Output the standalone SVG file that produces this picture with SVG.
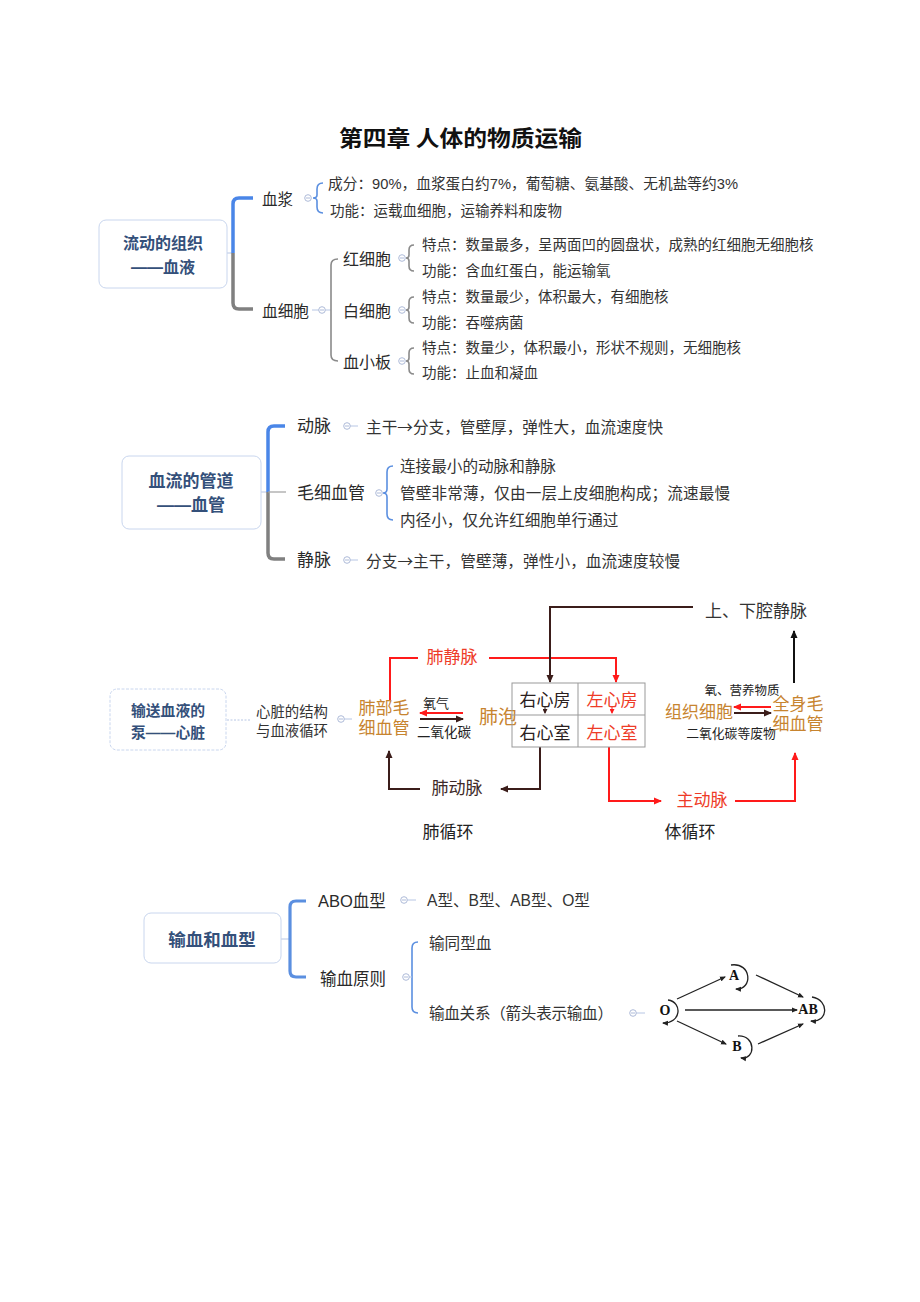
<svg xmlns="http://www.w3.org/2000/svg" width="920" height="1302" viewBox="0 0 920 1302">
<style>
text{font-family:"Liberation Sans","Noto Sans CJK SC",sans-serif;fill:#333;dominant-baseline:central}
.t{font-size:14.5px}
.t2{font-size:15.6px}
.cj{font-family:"Noto Sans CJK SC",sans-serif}
.n{font-size:16px;fill:#2a2a2a}
.box{fill:#fff;stroke:#c9d6ee;stroke-width:1}
.bt{font-size:16px;font-weight:700;fill:#34507a;text-anchor:middle}
.blue{fill:none;stroke:#4a86e8;stroke-width:3.5}
.grey{fill:none;stroke:#808080;stroke-width:3.5}
.gs{fill:none;stroke:#8a8a8a;stroke-width:1.6}
.bs{fill:none;stroke:#5b8fe0;stroke-width:1.6}
.lk{fill:none;stroke:#b7c6e4;stroke-width:1}
.h{font-size:17px}
.or{fill:#c7842f}
.rd{fill:#ee3b27}
.rl{fill:none;stroke:#ff1a1a;stroke-width:2}
.bl{fill:none;stroke:#3b1d1a;stroke-width:2}
.kl{fill:none;stroke:#111;stroke-width:2}
.g{fill:none;stroke:#222;stroke-width:1.3}
.ser{font-family:"Liberation Serif",serif;font-weight:700;font-size:14px;fill:#111;text-anchor:middle}
</style>
<defs>
<g id="knob"><circle r="3.3" fill="#fff" stroke="#aebbd9" stroke-width="1"/><line x1="-2" y1="0" x2="2" y2="0" stroke="#aebbd9" stroke-width="1"/></g>
<marker id="aR" markerWidth="8" markerHeight="8" refX="7" refY="4" orient="auto" markerUnits="userSpaceOnUse"><path d="M0,0.5 L8,4 L0,7.5 Z" fill="#ff1a1a"/></marker>
<marker id="aB" markerWidth="8" markerHeight="8" refX="7" refY="4" orient="auto" markerUnits="userSpaceOnUse"><path d="M0,0.5 L8,4 L0,7.5 Z" fill="#3b1d1a"/></marker>
<marker id="aK" markerWidth="8" markerHeight="8" refX="7" refY="4" orient="auto" markerUnits="userSpaceOnUse"><path d="M0,0.5 L8,4 L0,7.5 Z" fill="#111"/></marker>
<marker id="aS" markerWidth="6" markerHeight="6" refX="5" refY="3" orient="auto" markerUnits="userSpaceOnUse"><path d="M0,0.5 L6,3 L0,5.5 Z" fill="#222"/></marker>
<marker id="aSr" markerWidth="5" markerHeight="5" refX="4" refY="2.5" orient="auto" markerUnits="userSpaceOnUse"><path d="M0,0 L5,2.5 L0,5 Z" fill="#ff1a1a"/></marker>
<marker id="aSb" markerWidth="5" markerHeight="5" refX="4" refY="2.5" orient="auto" markerUnits="userSpaceOnUse"><path d="M0,0 L5,2.5 L0,5 Z" fill="#3b1d1a"/></marker>
</defs>
<rect width="920" height="1302" fill="#fff"/>

<g id="title"><text x="339" y="136" textLength="243" lengthAdjust="spacingAndGlyphs" style="font-family:'Noto Sans CJK SC',sans-serif;font-size:21.5px;font-weight:700;fill:#111">第四章  人体的物质运输</text></g>

<g id="connectors">
<!-- section 1 -->
<line class="lk" x1="227" y1="253" x2="233" y2="253"/>
<path class="blue" d="M253,198 L239,198 Q233,198 233,204 L233,253"/>
<path class="grey" d="M233,253 L233,303 Q233,309 239,309 L253,309"/>
<path class="bs" d="M323,183 Q317,183 317,189 L317,195 Q317,198 313,198 Q317,198 317,201 L317,207 Q317,213 323,213"/>
<line class="lk" x1="312" y1="310" x2="331" y2="310"/>
<path class="gs" d="M338,259 Q331,259 331,265 L331,355 Q331,361 338,361"/>
<path class="gs" d="M414,245 Q409,245 409,250 L409,255 Q409,258 406,258 Q409,258 409,261 L409,266 Q409,271 414,271"/>
<path class="gs" d="M414,297 Q409,297 409,302 L409,307 Q409,310 406,310 Q409,310 409,313 L409,318 Q409,323 414,323"/>
<path class="gs" d="M414,348 Q409,348 409,353 L409,358 Q409,361 406,361 Q409,361 409,364 L409,369 Q409,374 414,374"/>
<use href="#knob" x="308" y="198"/>
<use href="#knob" x="322" y="310"/>
<use href="#knob" x="402" y="258"/>
<use href="#knob" x="402" y="310"/>
<use href="#knob" x="402" y="361"/>
<!-- section 2 -->
<line class="lk" x1="261" y1="492" x2="268" y2="492"/>
<path class="blue" d="M285,426 L274,426 Q268,426 268,432 L268,492"/>
<path class="grey" d="M268,492 L268,553 Q268,559 274,559 L285,559"/>
<line x1="268" y1="492" x2="286" y2="492" stroke="#a0a0a0" stroke-width="1.2"/>
<line class="lk" x1="350" y1="426" x2="358" y2="426"/>
<line class="lk" x1="350" y1="560" x2="358" y2="560"/>
<use href="#knob" x="347" y="426"/>
<use href="#knob" x="347" y="560"/>
<path class="bs" d="M393,466 Q387,466 387,472 L387,489 Q387,493 383,493 Q387,493 387,497 L387,514 Q387,520 393,520"/>
<use href="#knob" x="379" y="493"/>
<!-- section 3 -->
<line x1="227" y1="720" x2="250" y2="720" stroke="#b7c6e4" stroke-width="1" stroke-dasharray="2,1.5"/>
<line class="lk" x1="344" y1="719" x2="352" y2="719"/>
<use href="#knob" x="341" y="719"/>
<path class="rl" d="M390,700 L390,658 L418,658"/>
<path class="rl" d="M489,658 L616,658 L616,682" marker-end="url(#aR)"/>
<path class="bl" d="M693,607 L550,607 L550,682" marker-end="url(#aB)"/>
<path class="bl" d="M540,747 L540,789 L501,789" marker-end="url(#aB)"/>
<path class="bl" d="M420,789 L389,789 L389,751" marker-end="url(#aB)"/>
<path class="rl" d="M609,747 L609,801 L661,801" marker-end="url(#aR)"/>
<path class="rl" d="M735,801 L795,801 L795,753" marker-end="url(#aR)"/>
<path class="kl" d="M794,683 L794,631" marker-end="url(#aK)"/>
<line x1="463" y1="713" x2="420" y2="713" stroke="#ff1a1a" stroke-width="2" marker-end="url(#aR)"/>
<line x1="420" y1="719" x2="463" y2="719" stroke="#3b1d1a" stroke-width="2" marker-end="url(#aB)"/>
<line x1="771" y1="707" x2="734" y2="707" stroke="#ff1a1a" stroke-width="2" marker-end="url(#aR)"/>
<line x1="734" y1="713" x2="771" y2="713" stroke="#3b1d1a" stroke-width="2" marker-end="url(#aB)"/>
<line x1="545" y1="706" x2="545" y2="713" stroke="#3b1d1a" stroke-width="1" marker-end="url(#aSb)"/>
<line x1="612" y1="706" x2="612" y2="713" stroke="#ff1a1a" stroke-width="1" marker-end="url(#aSr)"/>
<!-- section 4 -->
<line class="lk" x1="281" y1="939" x2="290" y2="939"/>
<path class="bs" style="stroke-width:3.2" d="M306,901 L296,901 Q290,901 290,907 L290,971 Q290,977 296,977 L306,977"/>
<line class="lk" x1="407" y1="900" x2="416" y2="900"/>
<use href="#knob" x="404" y="900"/>
<path class="bs" d="M418,942 Q412,942 412,948 L412,1007 Q412,1013 418,1013"/>
<line class="lk" x1="406" y1="977" x2="412" y2="977"/>
<use href="#knob" x="406" y="977"/>
<line class="lk" x1="636" y1="1013" x2="645" y2="1013"/>
<use href="#knob" x="633" y="1013"/>
</g>

<g id="blood">
<rect class="box" x="99" y="220" width="128" height="68" rx="7"/>
<text class="bt" x="163" y="243">流动的组织</text>
<text class="bt" x="163" y="267">——血液</text>
</g>
<g id="plasma"><text class="n" x="262" y="199" style="font-size:15.5px">血浆</text></g>
<g id="plasma-info">
<text class="t" x="328" y="184" textLength="410" lengthAdjust="spacingAndGlyphs">成分：90%，血浆蛋白约7%，葡萄糖、氨基酸、无机盐等约3%</text>
<text class="t" x="330" y="211">功能：运载血细胞，运输养料和废物</text>
</g>
<g id="cells"><text class="n" x="262" y="311" style="font-size:15.7px">血细胞</text></g>
<g id="rbc"><text class="n" x="343" y="259">红细胞</text>
<text class="t" x="422" y="245">特点：数量最多，呈两面凹的圆盘状，成熟的红细胞无细胞核</text>
<text class="t" x="422" y="271">功能：含血红蛋白，能运输氧</text></g>
<g id="wbc"><text class="n" x="343" y="311">白细胞</text>
<text class="t" x="422" y="297">特点：数量最少，体积最大，有细胞核</text>
<text class="t" x="422" y="323">功能：吞噬病菌</text></g>
<g id="plt"><text class="n" x="343" y="362">血小板</text>
<text class="t" x="422" y="348">特点：数量少，体积最小，形状不规则，无细胞核</text>
<text class="t" x="422" y="373">功能：止血和凝血</text></g>

<g id="vessels">
<rect class="box" x="122" y="456" width="139" height="73" rx="7"/>
<text class="bt" x="191" y="481" style="font-size:17px">血流的管道</text>
<text class="bt" x="191" y="505" style="font-size:17px">——血管</text>
</g>
<g id="artery"><text class="n" x="297" y="426" style="font-size:17px">动脉</text>
<text class="t2 cj" x="366" y="426" textLength="297">主干→分支，管壁厚，弹性大，血流速度快</text></g>
<g id="capillary"><text class="n" x="297" y="493" style="font-size:17px">毛细血管</text>
<text class="t2" x="400" y="466">连接最小的动脉和静脉</text>
<text class="t2" x="400" y="493" textLength="330">管壁非常薄，仅由一层上皮细胞构成；流速最慢</text>
<text class="t2" x="400" y="520">内径小，仅允许红细胞单行通过</text></g>
<g id="vein"><text class="n" x="297" y="560" style="font-size:17px">静脉</text>
<text class="t2 cj" x="366" y="560" textLength="314">分支→主干，管壁薄，弹性小，血流速度较慢</text></g>

<g id="heart">
<rect class="box" x="110" y="689" width="116" height="61" rx="7" style="stroke-dasharray:3,1.5"/>
<text class="bt" x="168" y="711" style="font-size:14.8px">输送血液的</text>
<text class="bt" x="168" y="733" style="font-size:14.8px">泵——心脏</text>
</g>
<g id="heart-structure">
<text x="292" y="712" style="font-size:14.4px;text-anchor:middle">心脏的结构</text>
<text x="292" y="731" style="font-size:14.4px;text-anchor:middle">与血液循环</text>
</g>
<g id="lung-cap"><text class="h or" x="384" y="708" text-anchor="middle">肺部毛</text><text class="h or" x="384" y="728" text-anchor="middle">细血管</text></g>
<g id="alveoli"><text class="or" x="479" y="717" style="font-size:19px">肺泡</text>
<text x="436" y="703" style="font-size:13px;text-anchor:middle;fill:#222">氧气</text>
<text x="444" y="732" style="font-size:13.5px;text-anchor:middle;fill:#222">二氧化碳</text></g>
<g id="pulm-vein"><text class="h rd" x="452" y="657" text-anchor="middle">肺静脉</text></g>
<g id="venacava"><text x="756" y="611" style="font-size:17px;text-anchor:middle;fill:#333">上、下腔静脉</text></g>
<g id="heart-grid">
<rect x="512" y="683" width="133" height="64" fill="none" stroke="#999" stroke-width="1"/>
<line x1="578" y1="683" x2="578" y2="747" stroke="#999" stroke-width="1"/>
<line x1="512" y1="715" x2="645" y2="715" stroke="#999" stroke-width="1"/>
<text x="545" y="700" style="font-size:17px;text-anchor:middle;fill:#2a2020">右心房</text>
<text x="612" y="700" style="font-size:17px;text-anchor:middle" class="rd">左心房</text>
<text x="545" y="733" style="font-size:17px;text-anchor:middle;fill:#2a2020">右心室</text>
<text x="612" y="733" style="font-size:17px;text-anchor:middle" class="rd">左心室</text>
</g>
<g id="pulm-artery"><text class="h" x="457" y="788" text-anchor="middle" style="fill:#3e2a28">肺动脉</text></g>
<g id="aorta"><text class="h rd" x="702" y="800" text-anchor="middle">主动脉</text></g>
<g id="tissue"><text class="h or" x="699" y="712" text-anchor="middle">组织细胞</text>
<text x="742" y="691" style="font-size:12.5px;text-anchor:middle;fill:#222">氧、营养物质</text>
<text x="731" y="733" style="font-size:12.8px;text-anchor:middle;fill:#222">二氧化碳等废物</text></g>
<g id="body-cap"><text class="h or" x="798" y="704" text-anchor="middle">全身毛</text><text class="h or" x="798" y="724" text-anchor="middle">细血管</text></g>
<g id="labels-circ">
<text x="448" y="832" style="font-size:17px;text-anchor:middle;fill:#222">肺循环</text>
<text x="690" y="832" style="font-size:17px;text-anchor:middle;fill:#222">体循环</text>
</g>

<g id="transfusion">
<rect class="box" x="144" y="913" width="137" height="50" rx="7"/>
<text class="bt" x="212" y="940" style="font-size:17.5px">输血和血型</text>
</g>
<g id="abo"><text class="n" x="318" y="901" style="font-size:16.5px">ABO血型</text>
<text class="t2" x="427" y="900">A型、B型、AB型、O型</text></g>
<g id="principle"><text class="n" x="320" y="979" style="font-size:16.5px">输血原则</text>
<text class="t2" x="429" y="943">输同型血</text>
<text class="t2" x="429" y="1013" textLength="184">输血关系（箭头表示输血）</text></g>
<g id="abo-graph">
<text class="ser" x="665" y="1010">O</text>
<text class="ser" x="734" y="975">A</text>
<text class="ser" x="737" y="1046">B</text>
<text class="ser" x="808" y="1009">AB</text>
<line class="g" x1="677" y1="999" x2="725" y2="977" marker-end="url(#aS)"/>
<line class="g" x1="756" y1="975" x2="803" y2="997" marker-end="url(#aS)"/>
<line class="g" x1="685" y1="1010" x2="797" y2="1010" marker-end="url(#aS)"/>
<line class="g" x1="677" y1="1021" x2="726" y2="1044" marker-end="url(#aS)"/>
<line class="g" x1="758" y1="1044" x2="803" y2="1024" marker-end="url(#aS)"/>
<path class="g" d="M731,965 C752,962 753,990 736,989" marker-end="url(#aS)"/>
<path class="g" d="M668,1000 C683,1002 681,1024 663,1023" marker-end="url(#aS)"/>
<path class="g" d="M812,997 C830,1000 828,1023 811,1021" marker-end="url(#aS)"/>
<path class="g" d="M738,1036 C756,1035 756,1060 741,1058" marker-end="url(#aS)"/>
</g>
</svg>
